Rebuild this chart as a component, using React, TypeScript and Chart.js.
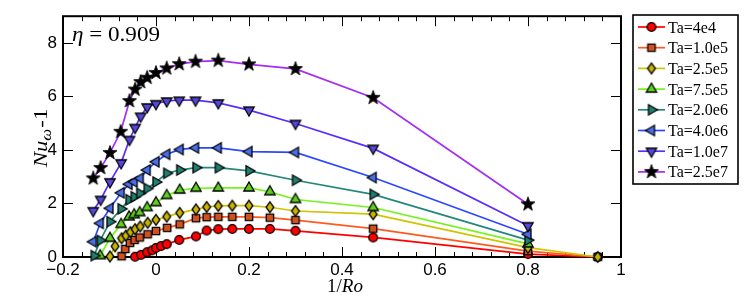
import React, { useEffect, useRef } from 'react';
import { Chart, registerables } from 'chart.js';

Chart.register(...registerables);

// ---------------- data ----------------
const seriesLabels = ['Ta=4e4', 'Ta=1.0e5', 'Ta=2.5e5', 'Ta=7.5e5', 'Ta=2.0e6', 'Ta=4.0e6', 'Ta=1.0e7', 'Ta=2.5e7'];

const x_4e4 = [-0.045, -0.032, -0.019, -0.008, 0.0, 0.011, 0.023, 0.05, 0.086, 0.109, 0.134, 0.164, 0.2, 0.245, 0.3, 0.467, 0.8, 0.95];
const nu_4e4 = [0.01, 0.08, 0.18, 0.25, 0.34, 0.41, 0.48, 0.64, 0.77, 0.99, 1.04, 1.05, 1.05, 1.05, 0.98, 0.73, 0.11, 0.0];

const x_1e5 = [-0.074, -0.066, -0.056, -0.046, -0.035, -0.018, 0.0, 0.024, 0.051, 0.086, 0.109, 0.134, 0.164, 0.2, 0.245, 0.3, 0.467, 0.8, 0.95];
const nu_1e5 = [0.03, 0.3, 0.53, 0.64, 0.73, 0.85, 0.97, 1.09, 1.22, 1.45, 1.49, 1.5, 1.5, 1.5, 1.47, 1.38, 1.06, 0.22, 0.0];

const x_25e5 = [-0.099, -0.088, -0.074, -0.065, -0.055, -0.045, -0.034, -0.018, 0.0, 0.023, 0.051, 0.086, 0.109, 0.134, 0.164, 0.2, 0.245, 0.3, 0.467, 0.8, 0.95];
const nu_25e5 = [0.02, 0.4, 0.7, 0.8, 0.93, 1.04, 1.14, 1.28, 1.39, 1.51, 1.65, 1.78, 1.87, 1.91, 1.92, 1.92, 1.86, 1.72, 1.6, 0.35, 0.0];

const x_75e5 = [-0.12, -0.099, -0.075, -0.058, -0.047, -0.035, -0.019, 0.0, 0.023, 0.051, 0.086, 0.134, 0.2, 0.245, 0.3, 0.467, 0.8];
const nu_75e5 = [0.05, 0.7, 1.22, 1.5, 1.58, 1.66, 1.85, 2.03, 2.3, 2.5, 2.57, 2.58, 2.58, 2.44, 2.15, 1.85, 0.49];

const x_2e6 = [-0.133, -0.12, -0.099, -0.075, -0.058, -0.047, -0.035, -0.019, 0.0, 0.023, 0.051, 0.086, 0.134, 0.2, 0.3, 0.467, 0.8];
const nu_2e6 = [0.05, 0.62, 1.32, 1.8, 2.14, 2.25, 2.38, 2.56, 2.8, 3.13, 3.25, 3.34, 3.34, 3.22, 2.87, 2.34, 0.63];

const x_4e6 = [-0.135, -0.12, -0.099, -0.075, -0.058, -0.047, -0.034, -0.019, 0.0, 0.023, 0.052, 0.085, 0.134, 0.2, 0.3, 0.467, 0.8];
const nu_4e6 = [0.57, 1.26, 1.82, 2.4, 2.72, 2.81, 2.94, 3.25, 3.56, 3.84, 4.02, 4.08, 4.08, 3.94, 3.91, 2.97, 0.85];

const x_1e7 = [-0.135, -0.119, -0.099, -0.075, -0.057, -0.045, -0.033, -0.019, 0.0, 0.023, 0.05, 0.085, 0.134, 0.2, 0.3, 0.467, 0.8];
const nu_1e7 = [1.73, 2.15, 2.81, 3.52, 4.39, 4.84, 5.26, 5.61, 5.73, 5.83, 5.86, 5.86, 5.76, 5.49, 4.99, 4.06, 1.17];

const x_25e7 = [-0.135, -0.119, -0.099, -0.076, -0.057, -0.045, -0.033, -0.019, 0.0, 0.023, 0.05, 0.085, 0.134, 0.2, 0.3, 0.467, 0.8];
const nu_25e7 = [2.94, 3.33, 3.89, 4.68, 5.83, 6.26, 6.54, 6.7, 6.88, 7.05, 7.21, 7.3, 7.34, 7.2, 7.03, 5.95, 1.97];

const seriesX = [x_4e4, x_1e5, x_25e5, x_75e5, x_2e6, x_4e6, x_1e7, x_25e7];
const seriesY = [nu_4e4, nu_1e5, nu_25e5, nu_75e5, nu_2e6, nu_4e6, nu_1e7, nu_25e7];

const xTicks = [-0.2, 0, 0.2, 0.4, 0.6, 0.8, 1];
const yTicks = [0, 2, 4, 6, 8];

// ---------------- styles ----------------
const lineColors = ['#ff0000', '#ff5a1e', '#cfc400', '#74f41a', '#23877a', '#2b48ff', '#5a2cff', '#a52cf0'];
const markerFills = ['#ff0000', '#d2501e', '#c8b400', '#5ecf1e', '#1f8070', '#4a6ee8', '#5546d8', '#000000'];
const markerKinds = ['circle', 'square', 'diamond', 'triUp', 'triRight', 'triLeft', 'triDown', 'star'];

function makeMarker(kind: string, fill: string): HTMLCanvasElement {
  const c = document.createElement('canvas');
  c.width = 18;
  c.height = 18;
  const g = c.getContext('2d') as CanvasRenderingContext2D;
  g.translate(9, 9);
  g.beginPath();
  const tri = (deg: number) => {
    const R = 6;
    for (let k = 0; k < 3; k++) {
      const a = ((-90 + deg + k * 120) * Math.PI) / 180;
      const px = Math.cos(a) * R;
      const py = Math.sin(a) * R;
      if (k === 0) g.moveTo(px, py);
      else g.lineTo(px, py);
    }
    g.closePath();
  };
  switch (kind) {
    case 'circle':
      g.arc(0, 0, 4.4, 0, Math.PI * 2);
      break;
    case 'square':
      g.rect(-3.7, -3.7, 7.4, 7.4);
      break;
    case 'diamond':
      g.moveTo(0, -5.3);
      g.lineTo(3.9, 0);
      g.lineTo(0, 5.3);
      g.lineTo(-3.9, 0);
      g.closePath();
      break;
    case 'triUp':
      tri(0);
      break;
    case 'triRight':
      tri(90);
      break;
    case 'triLeft':
      tri(-90);
      break;
    case 'triDown':
      tri(180);
      break;
    case 'star': {
      const Ro = 7.4;
      const Ri = 3.0;
      for (let k = 0; k < 10; k++) {
        const a = ((-90 + k * 36) * Math.PI) / 180;
        const r = k % 2 === 0 ? Ro : Ri;
        if (k === 0) g.moveTo(Math.cos(a) * r, Math.sin(a) * r);
        else g.lineTo(Math.cos(a) * r, Math.sin(a) * r);
      }
      g.closePath();
      break;
    }
  }
  g.fillStyle = fill;
  g.fill();
  g.lineWidth = kind === 'star' ? 0.8 : 1.3;
  g.strokeStyle = '#000';
  g.lineJoin = 'miter';
  g.stroke();
  return c;
}

const fmtX = (v: number) => {
  const r = Math.round(v * 10) / 10;
  if (Math.abs(r) < 1e-9) return '0';
  return r < 0 ? '\u2212' + String(Math.abs(r)) : String(r);
};

export default function App() {
  const ref = useRef<HTMLCanvasElement | null>(null);

  useEffect(() => {
    if (!ref.current) return;
    const markers = markerKinds.map((k, i) => makeMarker(k, markerFills[i]));

    const datasets = seriesLabels.map((label, i) => ({
      label,
      data: seriesX[i].map((x, j) => ({ x, y: seriesY[i][j] })),
      showLine: true,
      borderColor: lineColors[i],
      backgroundColor: markerFills[i],
      borderWidth: 1.7,
      tension: 0,
      fill: false,
      pointStyle: markers[i],
      pointRadius: 5,
      pointHoverRadius: 5,
      clip: false as any,
      order: seriesLabels.length - i,
    }));

    const framePlugin = {
      id: 'frameTicks',
      beforeDatasetsDraw(chart: any) {
        const { ctx, chartArea } = chart;
        const { left, right, top, bottom } = chartArea;
        const xs = chart.scales.x;
        const ys = chart.scales.y;
        ctx.save();
        ctx.strokeStyle = '#000';
        ctx.lineWidth = 1;
        ctx.beginPath();
        for (let i = 0; i <= 30; i++) {
          const v = -0.2 + i * 0.04;
          const px = Math.round(xs.getPixelForValue(v)) + 0.5;
          const len = i % 5 === 0 ? 10 : 5;
          ctx.moveTo(px, bottom);
          ctx.lineTo(px, bottom - len);
          ctx.moveTo(px, top);
          ctx.lineTo(px, top + len);
        }
        for (const v of yTicks) {
          const py = Math.round(ys.getPixelForValue(v)) + 0.5;
          ctx.moveTo(left, py);
          ctx.lineTo(left + 10, py);
          ctx.moveTo(right, py);
          ctx.lineTo(right - 10, py);
        }
        ctx.stroke();
        ctx.lineWidth = 2;
        ctx.strokeRect(left, top, right - left, bottom - top);
        ctx.restore();
      },
      afterDraw(chart: any) {
        const { ctx } = chart;
        ctx.save();
        ctx.fillStyle = '#000';
        ctx.textBaseline = 'alphabetic';
        // eta annotation
        ctx.save();
        ctx.translate(72, 41);
        ctx.scale(1.1, 1);
        ctx.font = 'italic 21px "Liberation Serif"';
        ctx.fillText('\u03b7', 0, 0);
        const w = ctx.measureText('\u03b7').width;
        ctx.font = '21px "Liberation Serif"';
        ctx.fillText(' = 0.909', w, 0);
        ctx.restore();

        // x title
        ctx.save();
        ctx.font = '19px "Liberation Serif"';
        const p1 = '1/';
        const w1 = ctx.measureText(p1).width;
        ctx.font = 'italic 19px "Liberation Serif"';
        const w2 = ctx.measureText('Ro').width;
        const x0 = 345 - (w1 + w2) / 2;
        ctx.font = '19px "Liberation Serif"';
        ctx.fillText(p1, x0, 292);
        ctx.font = 'italic 19px "Liberation Serif"';
        ctx.fillText('Ro', x0 + w1, 292);
        ctx.restore();

        // y title (rotated)
        ctx.save();
        ctx.translate(47, 138);
        ctx.rotate(-Math.PI / 2);
        ctx.scale(1.2, 1);
        const fN = 'italic 19px "Liberation Serif"';
        const fS = 'italic 14px "Liberation Serif"';
        const fR = '19px "Liberation Serif"';
        ctx.font = fN;
        const wN = ctx.measureText('Nu').width;
        ctx.font = fS;
        const wS = ctx.measureText('\u03c9').width;
        ctx.font = fR;
        const wR = ctx.measureText('-1').width;
        let cx = -(wN + wS + wR + 1) / 2;
        ctx.font = fN;
        ctx.fillText('Nu', cx, 0);
        cx += wN;
        ctx.font = fS;
        ctx.fillText('\u03c9', cx, 4);
        cx += wS + 1;
        ctx.font = fR;
        ctx.fillText('-1', cx, 0);
        ctx.restore();

        // legend
        const bx = 633, by = 15, bw = 105, bh = 169;
        ctx.fillStyle = '#fff';
        ctx.fillRect(bx, by, bw, bh);
        ctx.strokeStyle = '#000';
        ctx.lineWidth = 1.6;
        ctx.strokeRect(bx, by, bw, bh);
        ctx.font = '16px "Liberation Serif"';
        for (let i = 0; i < seriesLabels.length; i++) {
          const ry = 27 + i * 20.7;
          ctx.strokeStyle = lineColors[i];
          ctx.lineWidth = 1.7;
          ctx.beginPath();
          ctx.moveTo(638, ry);
          ctx.lineTo(665, ry);
          ctx.stroke();
          const m = markers[i];
          ctx.drawImage(m, 651.5 - m.width / 2, ry - m.height / 2);
          ctx.fillStyle = '#000';
          ctx.fillText(seriesLabels[i], 668, ry + 5.5);
        }
        ctx.restore();
      },
    };

    const chart = new Chart(ref.current, {
      type: 'scatter',
      data: { datasets: datasets as any },
      plugins: [framePlugin],
      options: {
        animation: false,
        responsive: false,
        devicePixelRatio: 1,
        layout: { padding: { left: 0, right: 126, top: 15, bottom: 0 } },
        plugins: { legend: { display: false }, tooltip: { enabled: false } },
        scales: {
          x: {
            type: 'linear',
            min: -0.2,
            max: 1,
            afterBuildTicks: (s: any) => {
              s.ticks = xTicks.map((v) => ({ value: v }));
            },
            afterFit: (s: any) => {
              s.height = 47;
            },
            grid: { display: false, drawTicks: false },
            border: { display: false },
            ticks: {
              callback: (v: any) => fmtX(Number(v)),
              font: { family: '"Liberation Sans"', size: 17 },
              color: '#000',
              padding: 3,
              maxRotation: 0,
              autoSkip: false,
            },
          },
          y: {
            type: 'linear',
            min: 0,
            max: 9,
            afterBuildTicks: (s: any) => {
              s.ticks = yTicks.map((v) => ({ value: v }));
            },
            afterFit: (s: any) => {
              s.width = 63;
            },
            grid: { display: false, drawTicks: false },
            border: { display: false },
            ticks: {
              callback: (v: any) => String(v),
              font: { family: '"Liberation Sans"', size: 17 },
              color: '#000',
              padding: 6,
              autoSkip: false,
            },
          },
        },
      },
    });
    return () => chart.destroy();
  }, []);

  return (
    <div style={{ position: 'absolute', left: 0, top: 0, width: 747, height: 304, background: '#fff' }}>
      <canvas ref={ref} width={747} height={304} style={{ width: 747, height: 304, display: 'block' }} />
    </div>
  );
}
